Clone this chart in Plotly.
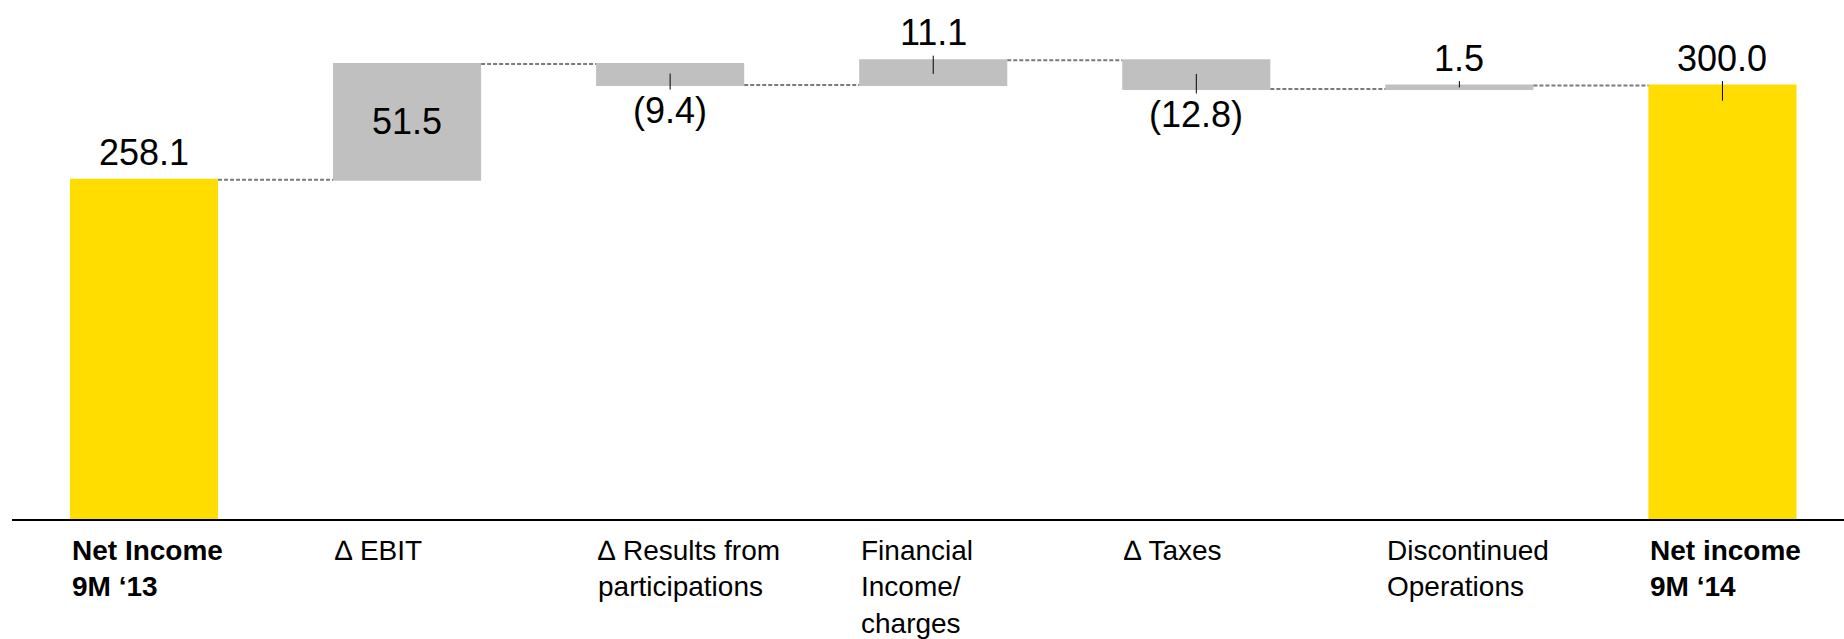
import plotly.graph_objects as go

# ---- data ----
categories = [
    "<b>Net Income<br>9M ‘13</b>",
    "∆ EBIT",
    "∆ Results from<br>participations",
    "Financial<br>Income/<br>charges",
    "∆ Taxes",
    "Discontinued<br>Operations",
    "<b>Net income<br>9M ‘14</b>",
]
measures = ["absolute", "relative", "relative", "relative", "relative", "relative", "total"]
values = [258.1, 51.5, -9.4, 11.1, -12.8, 1.5, 300.0]
value_labels = ["258.1", "51.5", "(9.4)", "11.1", "(12.8)", "1.5", "300.0"]
label_inside = [False, True, False, False, False, False, False]
has_leader = [False, False, True, True, True, True, True]

# ---- styling ----
YELLOW = "#FFDD00"
GREY = "#C0C0C0"
FONT = "Liberation Sans, Arial, sans-serif"
BAR_W = 0.563

xs = list(range(len(categories)))

# compute bar extents (start/end levels)
starts, ends = [], []
level = 0.0
for m, v in zip(measures, values):
    if m == "absolute":
        s, e = 0.0, v
        level = v
    elif m == "total":
        s, e = 0.0, level
    else:
        s, e = level, level + v
        level = level + v
    starts.append(s)
    ends.append(e)

fig = go.Figure()
fig.add_trace(go.Waterfall(
    x=xs, y=values, measure=measures, width=BAR_W,
    increasing=dict(marker=dict(color=GREY, line=dict(width=0))),
    decreasing=dict(marker=dict(color=GREY, line=dict(width=0))),
    totals=dict(marker=dict(color=YELLOW, line=dict(width=0))),
    connector=dict(mode="between", line=dict(color="#7A7A7A", width=2, dash="4px,2px")),
    hoverinfo="skip", showlegend=False,
))

# leader lines
lx, ly = [], []
OUT, IN = 2.0, 6.7
for i in xs:
    if not has_leader[i]:
        continue
    s, e = starts[i], ends[i]
    h = abs(e - s)
    inside = min(IN, 0.55 * h)
    if e >= s:  # positive / total: label above top
        lx += [i, i, None]
        ly += [e + OUT, e - inside, None]
    else:  # negative: label below bottom
        lx += [i, i, None]
        ly += [e - OUT, e + inside, None]
fig.add_trace(go.Scatter(x=lx, y=ly, mode="lines", line=dict(color="black", width=1),
                         hoverinfo="skip", showlegend=False))

annotations = []
for i in xs:
    s, e = starts[i], ends[i]
    if label_inside[i]:
        annotations.append(dict(x=i, y=(s + e) / 2, text=value_labels[i], showarrow=False,
                                xanchor="center", yanchor="middle",
                                font=dict(size=36, color="black", family=FONT)))
    elif e >= s:
        annotations.append(dict(x=i, y=e, text=value_labels[i], showarrow=False,
                                xanchor="center", yanchor="bottom", yshift=5,
                                font=dict(size=36, color="black", family=FONT)))
    else:
        annotations.append(dict(x=i, y=e, text=value_labels[i], showarrow=False,
                                xanchor="center", yanchor="top", yshift=-3,
                                font=dict(size=36, color="black", family=FONT)))
    annotations.append(dict(x=i - BAR_W / 2, y=0, yref="paper", text=categories[i],
                            showarrow=False, xanchor="left", yanchor="top", align="left",
                            yshift=-14, font=dict(size=28, color="black", family=FONT)))

fig.update_layout(
    width=1844, height=639,
    margin=dict(l=12, r=0, t=10, b=120, pad=0),
    paper_bgcolor="white", plot_bgcolor="white",
    annotations=annotations,
    xaxis=dict(range=[-0.5017, 6.462], showline=True, linecolor="black", linewidth=2,
               showticklabels=False, showgrid=False, zeroline=False, ticks=""),
    yaxis=dict(range=[107.3, 333.6], visible=False, showgrid=False, zeroline=False),
    font=dict(family=FONT),
)

fig.write_html("out.html", config=dict(displayModeBar=False))
